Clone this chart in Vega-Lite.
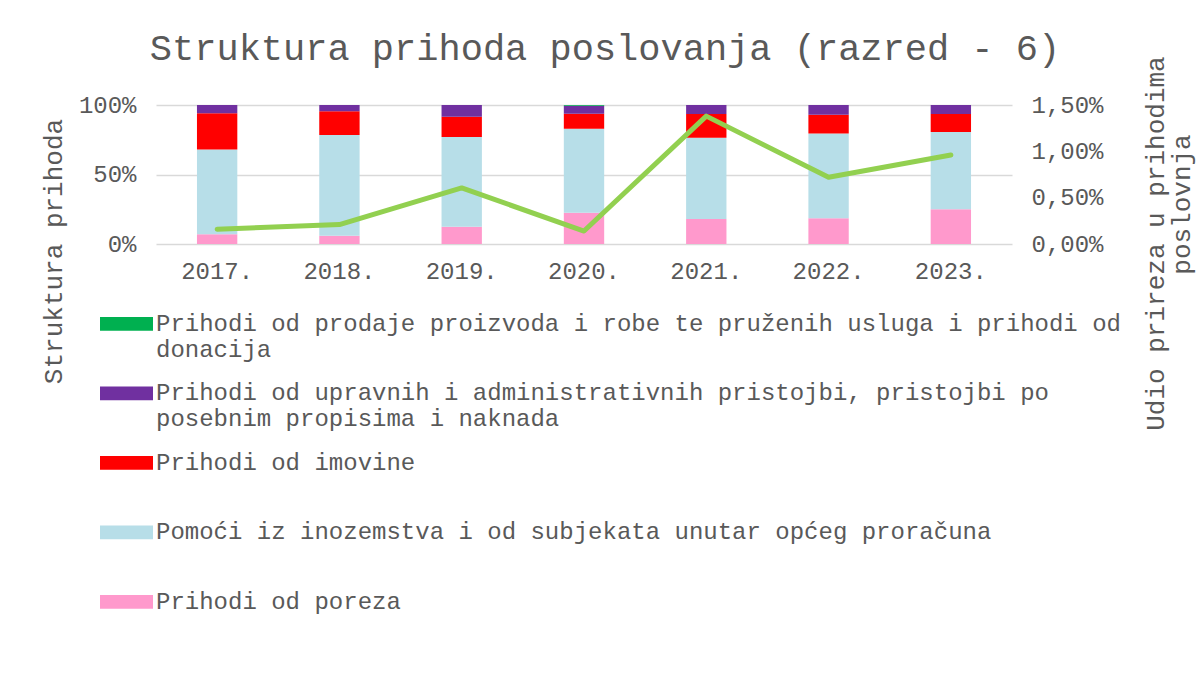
{
  "$schema": "https://vega.github.io/schema/vega-lite/v6.json",
  "width": 856,
  "height": 139,
  "autosize": {"type": "none"},
  "padding": {"left": 156, "top": 105, "right": 189, "bottom": 455},
  "background": "white",
  "title": {
    "text": "Struktura prihoda poslovanja (razred - 6)",
    "font": "Liberation Mono",
    "fontSize": 37,
    "fontWeight": "normal",
    "color": "#595959",
    "anchor": "middle",
    "frame": "group",
    "dx": 21,
    "dy": 16
  },
  "datasets": {
    "bars": [
      {"year": "2017.", "cat": "Prihodi od poreza", "val": 7, "ord": 1},
      {"year": "2017.", "cat": "Pomoći iz inozemstva i od subjekata unutar općeg proračuna", "val": 61, "ord": 2},
      {"year": "2017.", "cat": "Prihodi od imovine", "val": 26, "ord": 3},
      {"year": "2017.", "cat": "Prihodi od upravnih i administrativnih pristojbi, pristojbi po posebnim propisima i naknada", "val": 6, "ord": 4},
      {"year": "2017.", "cat": "Prihodi od prodaje proizvoda i robe te pruženih usluga i prihodi od donacija", "val": 0, "ord": 5},
      {"year": "2018.", "cat": "Prihodi od poreza", "val": 6, "ord": 1},
      {"year": "2018.", "cat": "Pomoći iz inozemstva i od subjekata unutar općeg proračuna", "val": 72.5, "ord": 2},
      {"year": "2018.", "cat": "Prihodi od imovine", "val": 17, "ord": 3},
      {"year": "2018.", "cat": "Prihodi od upravnih i administrativnih pristojbi, pristojbi po posebnim propisima i naknada", "val": 4.5, "ord": 4},
      {"year": "2018.", "cat": "Prihodi od prodaje proizvoda i robe te pruženih usluga i prihodi od donacija", "val": 0, "ord": 5},
      {"year": "2019.", "cat": "Prihodi od poreza", "val": 12.5, "ord": 1},
      {"year": "2019.", "cat": "Pomoći iz inozemstva i od subjekata unutar općeg proračuna", "val": 64.5, "ord": 2},
      {"year": "2019.", "cat": "Prihodi od imovine", "val": 14.5, "ord": 3},
      {"year": "2019.", "cat": "Prihodi od upravnih i administrativnih pristojbi, pristojbi po posebnim propisima i naknada", "val": 8.5, "ord": 4},
      {"year": "2019.", "cat": "Prihodi od prodaje proizvoda i robe te pruženih usluga i prihodi od donacija", "val": 0, "ord": 5},
      {"year": "2020.", "cat": "Prihodi od poreza", "val": 22.4, "ord": 1},
      {"year": "2020.", "cat": "Pomoći iz inozemstva i od subjekata unutar općeg proračuna", "val": 60.5, "ord": 2},
      {"year": "2020.", "cat": "Prihodi od imovine", "val": 10.8, "ord": 3},
      {"year": "2020.", "cat": "Prihodi od upravnih i administrativnih pristojbi, pristojbi po posebnim propisima i naknada", "val": 5.8, "ord": 4},
      {"year": "2020.", "cat": "Prihodi od prodaje proizvoda i robe te pruženih usluga i prihodi od donacija", "val": 0.5, "ord": 5},
      {"year": "2021.", "cat": "Prihodi od poreza", "val": 18, "ord": 1},
      {"year": "2021.", "cat": "Pomoći iz inozemstva i od subjekata unutar općeg proračuna", "val": 58.5, "ord": 2},
      {"year": "2021.", "cat": "Prihodi od imovine", "val": 17, "ord": 3},
      {"year": "2021.", "cat": "Prihodi od upravnih i administrativnih pristojbi, pristojbi po posebnim propisima i naknada", "val": 6.5, "ord": 4},
      {"year": "2021.", "cat": "Prihodi od prodaje proizvoda i robe te pruženih usluga i prihodi od donacija", "val": 0, "ord": 5},
      {"year": "2022.", "cat": "Prihodi od poreza", "val": 18.5, "ord": 1},
      {"year": "2022.", "cat": "Pomoći iz inozemstva i od subjekata unutar općeg proračuna", "val": 61, "ord": 2},
      {"year": "2022.", "cat": "Prihodi od imovine", "val": 13.5, "ord": 3},
      {"year": "2022.", "cat": "Prihodi od upravnih i administrativnih pristojbi, pristojbi po posebnim propisima i naknada", "val": 7, "ord": 4},
      {"year": "2022.", "cat": "Prihodi od prodaje proizvoda i robe te pruženih usluga i prihodi od donacija", "val": 0, "ord": 5},
      {"year": "2023.", "cat": "Prihodi od poreza", "val": 25, "ord": 1},
      {"year": "2023.", "cat": "Pomoći iz inozemstva i od subjekata unutar općeg proračuna", "val": 55.5, "ord": 2},
      {"year": "2023.", "cat": "Prihodi od imovine", "val": 13, "ord": 3},
      {"year": "2023.", "cat": "Prihodi od upravnih i administrativnih pristojbi, pristojbi po posebnim propisima i naknada", "val": 6.5, "ord": 4},
      {"year": "2023.", "cat": "Prihodi od prodaje proizvoda i robe te pruženih usluga i prihodi od donacija", "val": 0, "ord": 5}
    ],
    "line": [
      {"year": "2017.", "prirez": 0.0016},
      {"year": "2018.", "prirez": 0.0021},
      {"year": "2019.", "prirez": 0.00605},
      {"year": "2020.", "prirez": 0.0014},
      {"year": "2021.", "prirez": 0.0138},
      {"year": "2022.", "prirez": 0.0072},
      {"year": "2023.", "prirez": 0.0096}
    ]
  },
  "layer": [
    {
      "data": {"name": "bars"},
      "mark": {"type": "bar"},
      "encoding": {
        "x": {
          "field": "year",
          "type": "nominal",
          "sort": null,
          "scale": {"paddingInner": 0.67, "paddingOuter": 0.335},
          "axis": {
            "title": "poslovnja",
            "titleAngle": 270,
            "titleAlign": "center",
            "titleBaseline": "alphabetic",
            "titleX": 1033,
            "titleY": -40,
            "labelAngle": 0,
            "domain": false,
            "ticks": false,
            "labelPadding": 15
          }
        },
        "y": {
          "field": "val",
          "type": "quantitative",
          "stack": "normalize",
          "scale": {"domain": [0, 1]},
          "axis": {
            "title": "Struktura prihoda",
            "values": [0, 0.5, 1],
            "format": ".0%",
            "grid": true,
            "gridColor": "#d9d9d9",
            "gridWidth": 1.5,
            "domain": false,
            "ticks": false,
            "labelPadding": 20,
            "titleAngle": 270,
            "titleAlign": "center",
            "titleBaseline": "alphabetic",
            "titleX": -95,
            "titleY": 146
          }
        },
        "color": {
          "field": "cat",
          "type": "nominal",
          "scale": {
            "domain": [
              "Prihodi od prodaje proizvoda i robe te pruženih usluga i prihodi od donacija",
              "Prihodi od upravnih i administrativnih pristojbi, pristojbi po posebnim propisima i naknada",
              "Prihodi od imovine",
              "Pomoći iz inozemstva i od subjekata unutar općeg proračuna",
              "Prihodi od poreza"
            ],
            "range": ["#00B050", "#7030A0", "#FF0000", "#B7DEE8", "#FF99CC"]
          },
          "legend": {
            "title": null,
            "orient": "none",
            "legendX": -56,
            "legendY": 192,
            "direction": "vertical",
            "padding": 0,
            "symbolType": "M-1,-0.245H1V0.27H-1Z",
            "symbolSize": 2809,
            "symbolStrokeWidth": 0,
            "symbolOpacity": 1,
            "labelFontSize": 24,
            "labelColor": "#595959",
            "labelOffset": 3,
            "labelBaseline": "middle",
            "labelLimit": 1100,
            "rowPadding": 4.5,
            "labelExpr": "datum.label == 'Prihodi od prodaje proizvoda i robe te pruženih usluga i prihodi od donacija' ? ['Prihodi od prodaje proizvoda i robe te pruženih usluga i prihodi od', 'donacija'] : datum.label == 'Prihodi od upravnih i administrativnih pristojbi, pristojbi po posebnim propisima i naknada' ? ['Prihodi od upravnih i administrativnih pristojbi, pristojbi po', 'posebnim propisima i naknada'] : [datum.label, ' ']"
          }
        },
        "order": {"field": "ord", "type": "quantitative"}
      }
    },
    {
      "data": {"name": "line"},
      "mark": {"type": "line", "color": "#92D050", "strokeWidth": 5, "strokeCap": "round", "strokeJoin": "round"},
      "encoding": {
        "x": {"field": "year", "type": "nominal", "sort": null},
        "y": {
          "field": "prirez",
          "type": "quantitative",
          "scale": {"domain": [0, 0.015]},
          "axis": {
            "orient": "right",
            "title": "Udio prireza u prihodima",
            "values": [0, 0.005, 0.01, 0.015],
            "labelExpr": "replace(format(datum.value, '.2%'), '.', ',')",
            "grid": false,
            "domain": false,
            "ticks": false,
            "labelPadding": 19,
            "titleAngle": 270,
            "titleAlign": "center",
            "titleBaseline": "alphabetic",
            "titleX": 151,
            "titleY": 138
          }
        }
      }
    }
  ],
  "resolve": {"scale": {"y": "independent"}},
  "config": {
    "font": "Liberation Mono",
    "view": {"stroke": null},
    "axis": {
      "labelColor": "#595959",
      "titleColor": "#595959",
      "labelFontSize": 24,
      "titleFontSize": 26,
      "titleFontWeight": "normal",
      "labelFont": "Liberation Mono",
      "titleFont": "Liberation Mono"
    },
    "legend": {"labelFont": "Liberation Mono"}
  }
}
